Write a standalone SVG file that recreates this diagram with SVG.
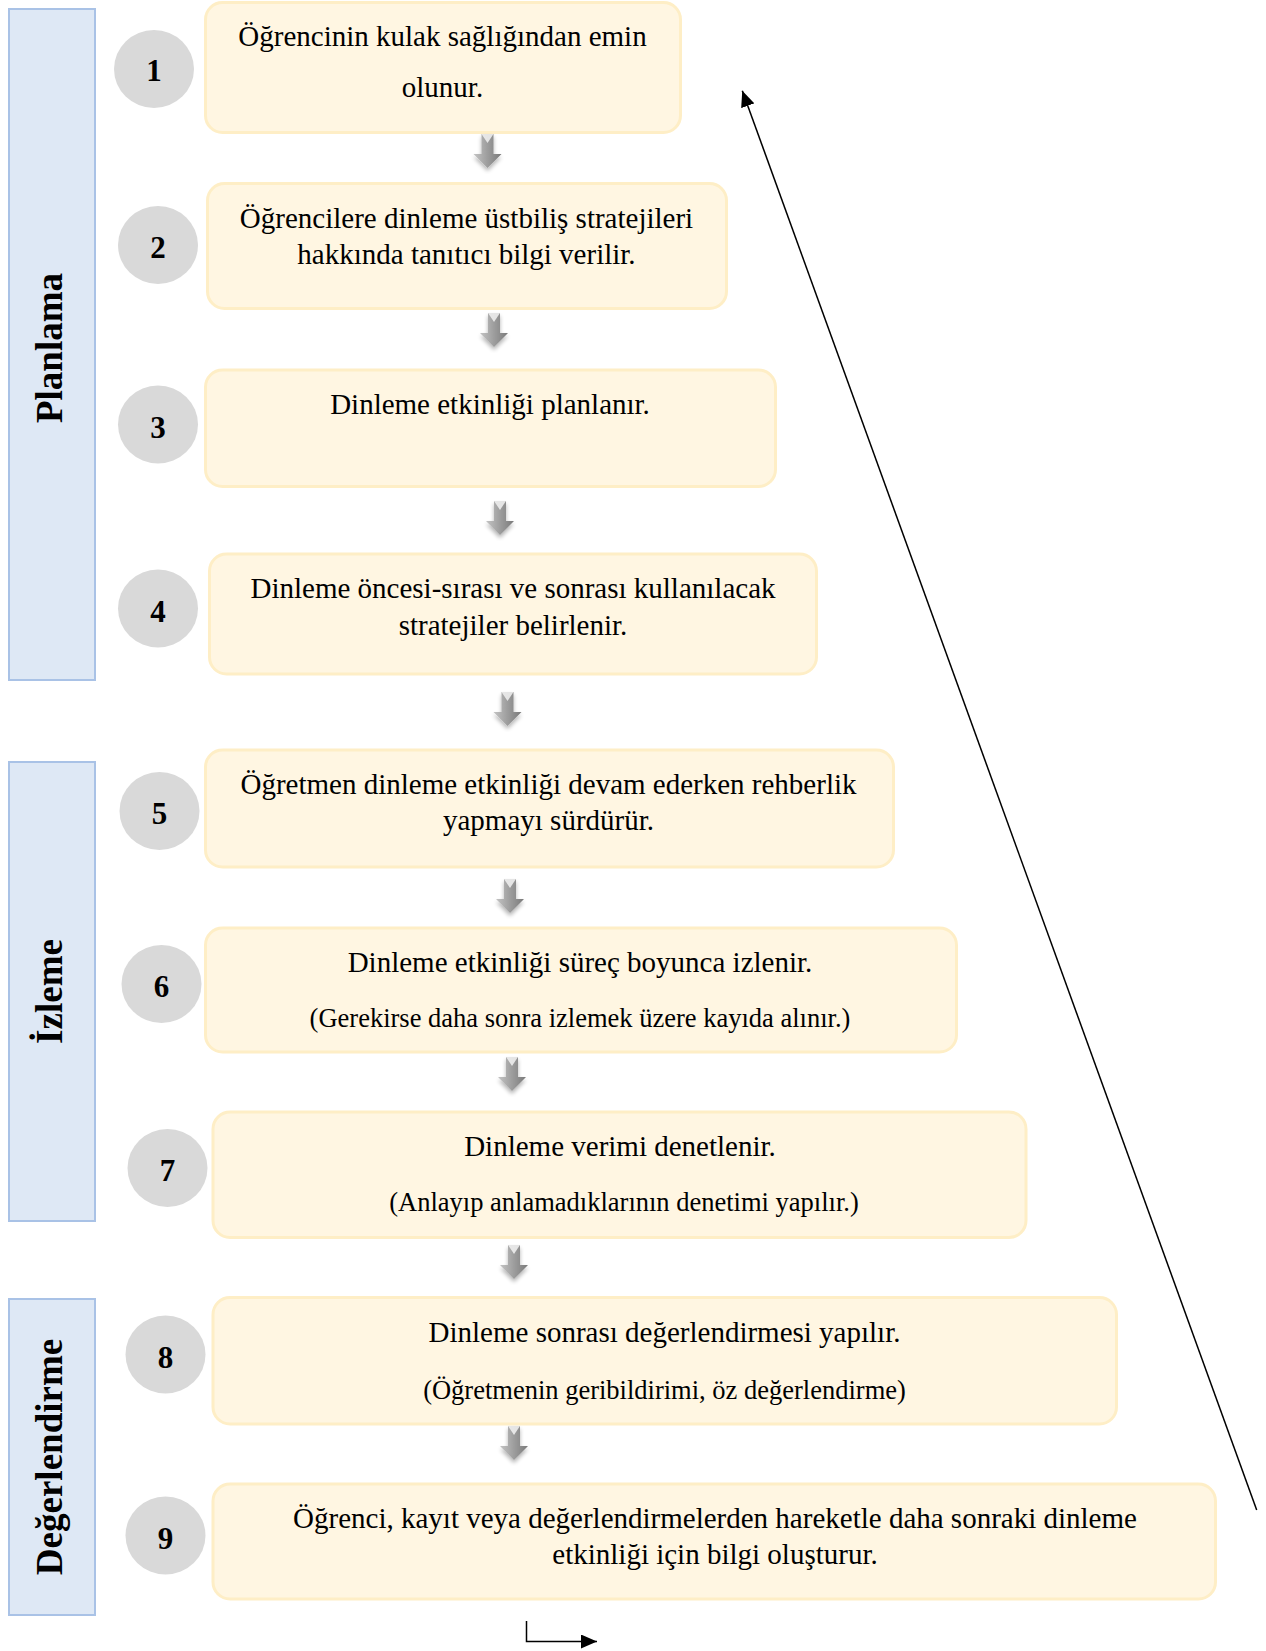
<svg xmlns="http://www.w3.org/2000/svg" width="1266" height="1651" viewBox="0 0 1266 1651">
<style>
.bar{fill:#dee8f5;stroke:#a9c2e6;stroke-width:2}
.bar-t{font-family:"Liberation Serif",serif;font-weight:bold;font-size:37px;fill:#000;text-anchor:middle}
.box{fill:#fff6e2;stroke:#feeec6;stroke-width:3}
.num-c{fill:#d9d9d9}
.num{font-family:"Liberation Serif",serif;font-weight:bold;font-size:31px;fill:#000;text-anchor:middle}
.t{font-family:"Liberation Serif",serif;font-size:29px;fill:#000;text-anchor:middle}
.p{font-family:"Liberation Serif",serif;font-size:26.5px;fill:#000;text-anchor:middle}
.conn{fill:none;stroke:#000;stroke-width:1.5}
.ga{fill:url(#gg);filter:url(#sh)}
.gh{fill:#f2f2f2;opacity:0.85}
</style>
<defs>
<linearGradient id="gg" x1="0" y1="0" x2="1" y2="0">
<stop offset="0" stop-color="#c4c4c4"/>
<stop offset="0.5" stop-color="#9d9d9d"/>
<stop offset="1" stop-color="#7a7a7a"/>
</linearGradient>
<filter id="sh" x="-50%" y="-30%" width="200%" height="170%">
<feGaussianBlur in="SourceAlpha" stdDeviation="2"/>
<feOffset dx="0" dy="3" result="b"/>
<feComponentTransfer><feFuncA type="linear" slope="0.3"/></feComponentTransfer>
<feMerge><feMergeNode/><feMergeNode in="SourceGraphic"/></feMerge>
</filter>
<marker id="ah" markerWidth="16" markerHeight="14" refX="16" refY="7" orient="auto" markerUnits="userSpaceOnUse">
<path d="M0,0 L16,7 L0,14 Z" fill="#000"/>
</marker>
<g id="garrow">
<path class="ga" d="M-6,0 H6 V20 H14 L0,34 L-14,20 H-6 Z"/>
<path class="gh" d="M-6,0 H6 L0,9 Z"/>
</g>
</defs>

<g id="phase-planlama">
<rect class="bar" x="9" y="9" width="86" height="671"/>
<text class="bar-t" transform="translate(62,348) rotate(-90)">Planlama</text>
</g>
<g id="phase-izleme">
<rect class="bar" x="9" y="762" width="86" height="459"/>
<text class="bar-t" transform="translate(62,991.5) rotate(-90)">İzleme</text>
</g>
<g id="phase-degerlendirme">
<rect class="bar" x="9" y="1299" width="86" height="316"/>
<text class="bar-t" transform="translate(62,1457) rotate(-90)">Değerlendirme</text>
</g>

<g id="step1">
<ellipse class="num-c" cx="154" cy="69" rx="40" ry="39"/>
<text class="num" x="154" y="81">1</text>
<rect class="box" x="205.5" y="2.5" width="475" height="130" rx="17"/>
<text class="t" x="442.5" y="46">Öğrencinin kulak sağlığından emin</text>
<text class="t" x="442.5" y="96.5">olunur.</text>
</g>
<g id="step2">
<ellipse class="num-c" cx="158" cy="245" rx="40" ry="39"/>
<text class="num" x="158" y="258">2</text>
<rect class="box" x="207.5" y="183.5" width="519" height="125" rx="17"/>
<text class="t" x="466.5" y="228">Öğrencilere dinleme üstbiliş stratejileri</text>
<text class="t" x="466.5" y="263.5">hakkında tanıtıcı bilgi verilir.</text>
</g>
<g id="step3">
<ellipse class="num-c" cx="158" cy="424.5" rx="40" ry="39"/>
<text class="num" x="158" y="437.5">3</text>
<rect class="box" x="205.5" y="370" width="570" height="116.5" rx="17"/>
<text class="t" x="490" y="413.8">Dinleme etkinliği planlanır.</text>
</g>
<g id="step4">
<ellipse class="num-c" cx="158" cy="608.5" rx="40" ry="39"/>
<text class="num" x="158" y="621.5">4</text>
<rect class="box" x="209.5" y="554" width="607" height="120" rx="17"/>
<text class="t" x="513" y="597.5">Dinleme öncesi-sırası ve sonrası kullanılacak</text>
<text class="t" x="513" y="634.5">stratejiler belirlenir.</text>
</g>
<g id="step5">
<ellipse class="num-c" cx="159.5" cy="811" rx="40" ry="39"/>
<text class="num" x="159.5" y="824">5</text>
<rect class="box" x="205.5" y="750" width="688" height="117" rx="17"/>
<text class="t" x="548.5" y="793.5">Öğretmen dinleme etkinliği devam ederken rehberlik</text>
<text class="t" x="548.5" y="829.5">yapmayı sürdürür.</text>
</g>
<g id="step6">
<ellipse class="num-c" cx="161.5" cy="984" rx="40" ry="39"/>
<text class="num" x="161.5" y="997">6</text>
<rect class="box" x="205.5" y="928" width="751" height="124" rx="17"/>
<text class="t" x="580" y="971.5">Dinleme etkinliği süreç boyunca izlenir.</text>
<text class="p" x="580" y="1027">(Gerekirse daha sonra izlemek üzere kayıda alınır.)</text>
</g>
<g id="step7">
<ellipse class="num-c" cx="167.5" cy="1168" rx="40" ry="39"/>
<text class="num" x="167.5" y="1181">7</text>
<rect class="box" x="213" y="1112" width="813" height="125.5" rx="17"/>
<text class="t" x="620" y="1156">Dinleme verimi denetlenir.</text>
<text class="p" x="624" y="1211">(Anlayıp anlamadıklarının denetimi yapılır.)</text>
</g>
<g id="step8">
<ellipse class="num-c" cx="165.5" cy="1354.5" rx="40" ry="39"/>
<text class="num" x="165.5" y="1367.5">8</text>
<rect class="box" x="213" y="1297.5" width="903.5" height="126.5" rx="17"/>
<text class="t" x="664.5" y="1342">Dinleme sonrası değerlendirmesi yapılır.</text>
<text class="p" x="664.5" y="1399">(Öğretmenin geribildirimi, öz değerlendirme)</text>
</g>
<g id="step9">
<ellipse class="num-c" cx="165.5" cy="1535.5" rx="40" ry="39"/>
<text class="num" x="165.5" y="1548.5">9</text>
<rect class="box" x="213" y="1484" width="1002.5" height="115" rx="17"/>
<text class="t" x="715" y="1527.5">Öğrenci, kayıt veya değerlendirmelerden hareketle daha sonraki dinleme</text>
<text class="t" x="715" y="1563.5">etkinliği için bilgi oluşturur.</text>
</g>

<g id="connectors">
<use href="#garrow" x="487.5" y="134"/>
<use href="#garrow" x="494" y="313"/>
<use href="#garrow" x="500" y="501"/>
<use href="#garrow" x="507.5" y="692"/>
<use href="#garrow" x="510" y="879"/>
<use href="#garrow" x="512" y="1057"/>
<use href="#garrow" x="514" y="1245"/>
<use href="#garrow" x="514" y="1426"/>
<path class="conn" d="M1256.7,1510 L742.3,90.7" marker-end="url(#ah)"/>
<path class="conn" d="M526.5,1621 V1641.5 H597" marker-end="url(#ah)"/>
</g>
</svg>
